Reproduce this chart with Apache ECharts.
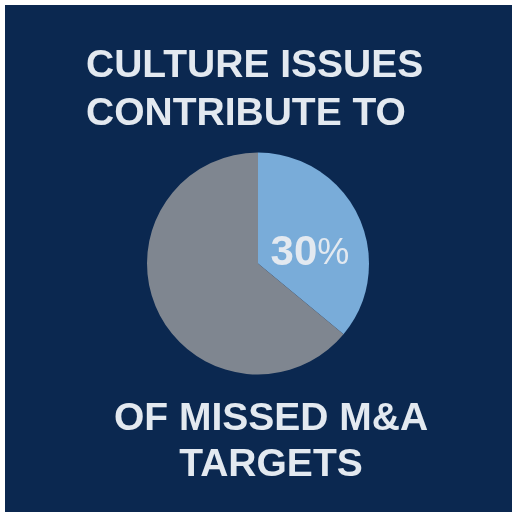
<!DOCTYPE html>
<html>
<head>
<meta charset="utf-8">
<script src="https://cdn.jsdelivr.net/npm/echarts@6/dist/echarts.min.js"></script>
<style>
html,body{margin:0;padding:0;background:#ffffff;}
#chart{width:519px;height:518px;}
</style>
</head>
<body>
<div id="chart"></div>
<script>
// Data
const sliceNames = ['Culture issues', 'Other factors'];
const sliceValues = [36, 64];            // visual share of the pie as drawn
const highlightLabel = ['30', '%'];      // stated figure printed in the slice
const titleLines = ['CULTURE ISSUES', 'CONTRIBUTE TO'];
const footerLines = ['OF MISSED M&A', 'TARGETS'];

const navy = '#0b2850';
const textColor = '#e3e9f0';
const sliceColors = ['#79acd9', '#7f8690'];

const chart = echarts.init(document.getElementById('chart'), null, {renderer: 'canvas'});

const graphics = [
  {type: 'rect', z: -10, shape: {x: 5, y: 5, width: 507, height: 507}, style: {fill: navy}}
];
titleLines.forEach((t, i) => {
  graphics.push({type: 'text', x: 86, y: 66 + i * 48, style: {
    text: t, fill: textColor, font: 'bold 39px "Liberation Sans", Arial, sans-serif',
    textAlign: 'left', textVerticalAlign: 'middle'}});
});
footerLines.forEach((t, i) => {
  graphics.push({type: 'text', x: 271, y: 419 + i * 46, style: {
    text: t, fill: textColor, font: 'bold 39px "Liberation Sans", Arial, sans-serif',
    textAlign: 'center', textVerticalAlign: 'middle'}});
});

chart.setOption({
  backgroundColor: '#ffffff',
  animation: false,
  graphic: graphics,
  series: [{
    type: 'pie',
    center: [258, 263.5],
    radius: 111,
    startAngle: 90,
    clockwise: true,
    silent: true,
    itemStyle: {borderWidth: 0},
    labelLine: {show: false},
    data: sliceNames.map((n, i) => ({
      name: n, value: sliceValues[i],
      itemStyle: {color: sliceColors[i], borderWidth: 0},
      label: i === 0 ? {
        show: true, position: 'inside',
        formatter: '{a|' + highlightLabel[0] + '}{b|' + highlightLabel[1] + '}',
        padding: [30, 2, 0, 0],
        rich: {
          a: {fontFamily: '"Liberation Sans", Arial, sans-serif', fontWeight: 'bold', fontSize: 42, color: textColor},
          b: {fontFamily: '"Liberation Sans", Arial, sans-serif', fontWeight: 'normal', fontSize: 36, color: textColor}
        }
      } : {show: false}
    }))
  }]
});
</script>
</body>
</html>
